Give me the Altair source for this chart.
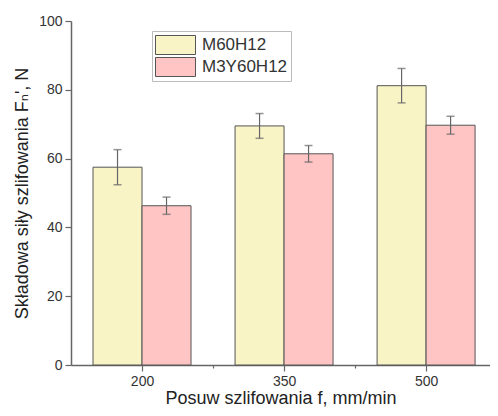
import altair as alt
import pandas as pd

feeds = ["200", "350", "500"]
series = ["M60H12", "M3Y60H12"]
m60 = [57.5, 69.5, 81.2]
m60_err = [5.1, 3.6, 5.0]
m3y = [46.3, 61.4, 69.7]
m3y_err = [2.5, 2.4, 2.6]

half = 0.345
rows = []
for i, f in enumerate(feeds):
    g = i + 1
    for s, vals, errs, off in [(series[0], m60, m60_err, -1), (series[1], m3y, m3y_err, 0)]:
        x0 = g + off * half
        x1 = x0 + half
        rows.append({"feed": f, "series": s, "value": vals[i], "err": errs[i],
                     "x0": x0, "x1": x1, "xc": (x0 + x1) / 2,
                     "lo": vals[i] - errs[i], "hi": vals[i] + errs[i]})
df = pd.DataFrame(rows)

FONT = "Liberation Sans, DejaVu Sans, sans-serif"
xscale = alt.Scale(domain=[0.5, 3.45], nice=False, zero=False, padding=0)
yscale = alt.Scale(domain=[0, 100], nice=False, padding=0)

base = alt.Chart(df)

bars = base.mark_bar(stroke="#555555", strokeWidth=1).encode(
    x=alt.X("x0:Q", scale=xscale,
            axis=alt.Axis(values=[1, 1.5, 2, 2.5, 3],
                          labelExpr="datum.value == 1 ? '200' : datum.value == 2 ? '350' : datum.value == 3 ? '500' : ''",
                          tickSize={"condition": {"test": "datum.value % 1 === 0", "value": 6}, "value": 3},
                          title="Posuw szlifowania f, mm/min")),
    x2="x1:Q",
    y=alt.Y("value:Q", scale=yscale,
            axis=alt.Axis(values=list(range(0, 101, 10)),
                          labelExpr="datum.value % 20 === 0 ? datum.label : ''",
                          tickSize={"condition": {"test": "datum.value % 20 === 0", "value": 6}, "value": 3},
                          title="Składowa siły szlifowania Fₙ', N")),
    y2=alt.Y2(datum=0),
    fill=alt.Fill("series:N", scale=alt.Scale(domain=series, range=["#F8F4C6", "#FFC5C5"]),
                  sort=series,
                  legend=alt.Legend(title=None, orient="none", legendX=81, legendY=10,
                                    symbolType="M-1,-0.475H1V0.475H-1Z", symbolSize=1600,
                                    symbolStrokeColor="#555555", symbolStrokeWidth=1,
                                    symbolOpacity=1,
                                    clipHeight=22, rowPadding=0, labelOffset=6,
                                    labelFont=FONT, labelFontSize=17, labelColor="#333333",
                                    padding=3, strokeColor="#BBBBBB", fillColor="white")),
)

err_rule = base.mark_rule(color="#666666", strokeWidth=1.2).encode(
    x="xc:Q", y="lo:Q", y2="hi:Q")
cap_hi = base.mark_tick(color="#666666", orient="horizontal", size=8, thickness=1.5).encode(
    x="xc:Q", y="hi:Q")
cap_lo = base.mark_tick(color="#666666", orient="horizontal", size=8, thickness=1.5).encode(
    x="xc:Q", y="lo:Q")

chart = alt.layer(bars, err_rule, cap_hi, cap_lo).properties(
    width=419, height=344,
    autosize=alt.AutoSizeParams(type="none"),
    padding={"left": 63, "top": 13, "right": 0, "bottom": 43},
).configure_view(stroke=None).configure_axis(
    grid=False, domainColor="#666666", domainWidth=1.5, tickColor="#666666", tickWidth=1.2,
    labelFont=FONT, labelFontSize=14, labelColor="#333333", labelPadding=3,
    titleFont=FONT, titleFontSize=18, titleFontWeight="normal", titleColor="#222222",
).configure_axisX(labelPadding=3, titlePadding=1).configure_axisY(titlePadding=7)

chart.save("out.html", embed_options={"renderer": "svg", "actions": False})
